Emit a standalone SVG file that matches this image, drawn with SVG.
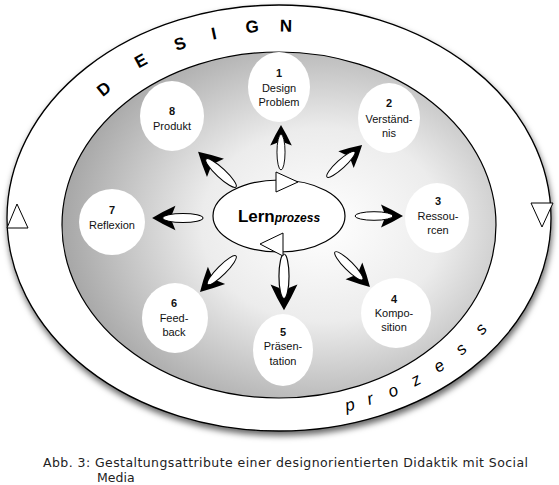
<svg xmlns="http://www.w3.org/2000/svg" width="559" height="485" viewBox="0 0 559 485">
<defs>
<radialGradient id="bg" cx="0.6" cy="0.5" r="0.62">
<stop offset="0" stop-color="#ffffff"/>
<stop offset="0.45" stop-color="#ececec"/>
<stop offset="1" stop-color="#a2a2a2"/>
</radialGradient>
<filter id="sh" x="-10%" y="-10%" width="120%" height="125%">
<feDropShadow dx="1" dy="4" stdDeviation="3" flood-color="#000" flood-opacity="0.6"/>
</filter>
<filter id="soft" x="-10%" y="-10%" width="120%" height="120%">
<feGaussianBlur stdDeviation="0.7"/>
</filter>
<g id="arr">
<path d="M48,0 Q38,-6 26,-11.5 L29,-4 Q34,-1.5 36,0 Q34,1.5 29,4 L26,11.5 Q38,6 48,0 Z" fill="#000"/>
<ellipse cx="19" cy="0" rx="19" ry="4.3" fill="#fff" stroke="#000" stroke-width="1"/>
</g>
</defs>
<style>
.node ellipse{fill:#fff;filter:url(#soft)}
.t{font-family:"Liberation Sans",Arial,sans-serif;font-size:11px;fill:#111;text-anchor:middle}
.n{font-weight:bold}
.ring{font-family:"Liberation Sans",Arial,sans-serif;font-size:17px;font-weight:bold;fill:#000;text-anchor:middle;dominant-baseline:central}
.ringi{font-family:"Liberation Sans",Arial,sans-serif;font-size:17px;font-style:italic;fill:#000;text-anchor:middle;dominant-baseline:central}
.tri{fill:#fff;stroke:#000;stroke-width:1;stroke-linejoin:miter}
.cap{font-family:"DejaVu Sans",Verdana,sans-serif;font-size:12.5px;fill:#222}
</style>
<rect width="559" height="485" fill="#fff"/>
<g id="ring">
<ellipse cx="279" cy="218" rx="272" ry="213" fill="#fff" stroke="#000" stroke-width="1.3" filter="url(#sh)"/>
<ellipse cx="279" cy="225" rx="217" ry="173" fill="url(#bg)" stroke="#000" stroke-width="1.2"/>
<polygon class="tri" points="17,204 7,228 28,228"/>
<polygon class="tri" points="531,203 553,203 542,227"/>
</g>
<g id="ring-text">
<text class="ring" transform="translate(104,89) rotate(-39)">D</text>
<text class="ring" transform="translate(141,61) rotate(-28)">E</text>
<text class="ring" transform="translate(180,44) rotate(-19)">S</text>
<text class="ring" transform="translate(214,34) rotate(-12)">I</text>
<text class="ring" transform="translate(252,27) rotate(-5)">G</text>
<text class="ring" transform="translate(286,26) rotate(1)">N</text>
<text class="ringi" transform="translate(350,405) rotate(-13)">p</text>
<text class="ringi" transform="translate(370,399) rotate(-17)">r</text>
<text class="ringi" transform="translate(393,391) rotate(-22)">o</text>
<text class="ringi" transform="translate(416,380) rotate(-28)">z</text>
<text class="ringi" transform="translate(439,366) rotate(-34)">e</text>
<text class="ringi" transform="translate(461,349) rotate(-41)">s</text>
<text class="ringi" transform="translate(481,329) rotate(-48)">s</text>
</g>
<g id="connectors">
<use href="#arr" transform="translate(281,170) rotate(-90) scale(0.94)"/>
<use href="#arr" transform="translate(327,177) rotate(-42.4) scale(0.99)"/>
<use href="#arr" transform="translate(355,216) rotate(0)"/>
<use href="#arr" transform="translate(335,252) rotate(45) scale(1.03)"/>
<use href="#arr" transform="translate(284,254) rotate(90) scale(1.17)"/>
<use href="#arr" transform="translate(236,256) rotate(135) scale(1.06)"/>
<use href="#arr" transform="translate(203,218) rotate(180) scale(1.06)"/>
<use href="#arr" transform="translate(236,187) rotate(-137) scale(1.08)"/>
</g>
<g id="center">
<ellipse cx="279" cy="216" rx="66" ry="36" fill="#fff" stroke="#000" stroke-width="1.2"/>
<text x="279" y="222" style="font-family:'Liberation Sans',Arial,sans-serif;font-weight:bold;text-anchor:middle;fill:#000"><tspan font-size="17">Lern</tspan><tspan font-size="12" font-style="italic">prozess</tspan></text>
<polygon class="tri" points="276,172 298,182 276,192"/>
<polygon class="tri" points="283,233 260,244 283,256"/>
</g>
<g id="node1" class="node"><ellipse cx="279" cy="87" rx="31" ry="35"/><text class="t n" x="279" y="77">1</text><text class="t" x="279" y="92">Design</text><text class="t" x="279" y="106">Problem</text></g>
<g id="node2" class="node"><ellipse cx="389" cy="118" rx="31" ry="35"/><text class="t n" x="389" y="107">2</text><text class="t" x="389" y="123">Verständ-</text><text class="t" x="389" y="137">nis</text></g>
<g id="node3" class="node"><ellipse cx="437" cy="218" rx="32" ry="35"/><text class="t n" x="438" y="205">3</text><text class="t" x="438" y="220">Ressou-</text><text class="t" x="438" y="234">rcen</text></g>
<g id="node4" class="node"><ellipse cx="396" cy="313" rx="35" ry="35"/><text class="t n" x="394" y="303">4</text><text class="t" x="394" y="317">Kompo-</text><text class="t" x="394" y="331">sition</text></g>
<g id="node5" class="node"><ellipse cx="283" cy="350" rx="30" ry="36"/><text class="t n" x="283" y="336">5</text><text class="t" x="283" y="350">Präsen-</text><text class="t" x="283" y="365">tation</text></g>
<g id="node6" class="node"><ellipse cx="175" cy="318" rx="33" ry="35"/><text class="t n" x="174" y="307">6</text><text class="t" x="174" y="322">Feed-</text><text class="t" x="174" y="336">back</text></g>
<g id="node7" class="node"><ellipse cx="112" cy="222" rx="33" ry="33"/><text class="t n" x="112" y="214">7</text><text class="t" x="112" y="229">Reflexion</text></g>
<g id="node8" class="node"><ellipse cx="172" cy="116" rx="32" ry="35"/><text class="t n" x="172" y="115">8</text><text class="t" x="172" y="130">Produkt</text></g>
<g id="caption">
<text class="cap" x="43" y="467" textLength="485" lengthAdjust="spacing">Abb. 3: Gestaltungsattribute einer designorientierten Didaktik mit Social</text>
<text class="cap" x="97" y="482">Media</text>
</g>
</svg>
